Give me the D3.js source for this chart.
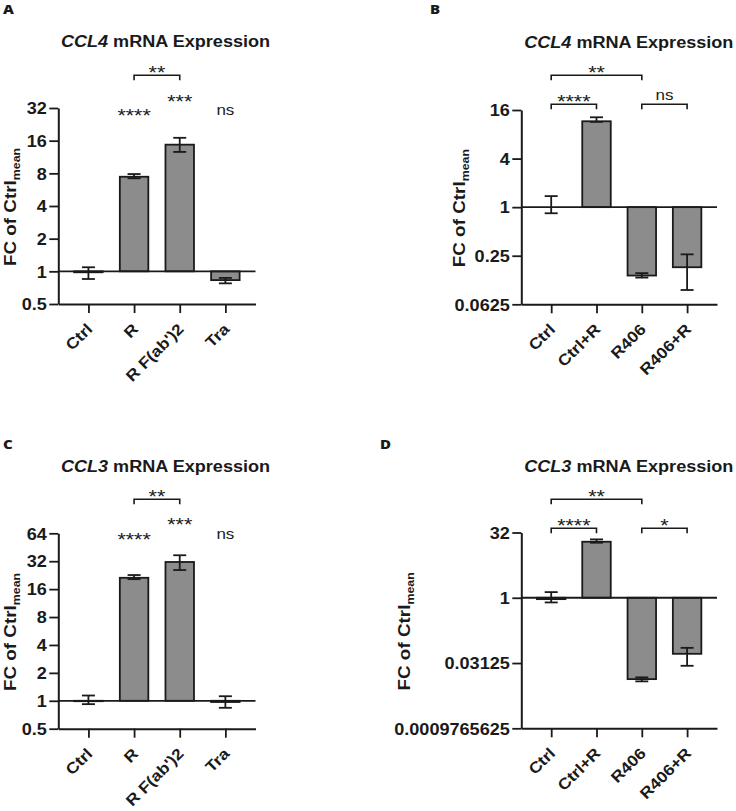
<!DOCTYPE html>
<html><head><meta charset="utf-8">
<script src="https://cdn.jsdelivr.net/npm/d3@7"></script>
<style>
body{margin:0;background:#fff}
svg{display:block}
text{font-family:"Liberation Sans",Arial,sans-serif;fill:#1a1a1a}
</style>
</head><body>
<svg id="c" width="736" height="811"></svg>
<script>
// ---------- data ----------
const catsAC = ["Ctrl", "R", "R F(ab')2", "Tra"];
const catsBD = ["Ctrl", "Ctrl+R", "R406", "R406+R"];

// Panel A: CCL4
const meanA = [0.98, 7.44, 14.7, 0.83];
const lowA  = [0.85, 7.2, 12.6, 0.775];
const highA = [1.09, 7.88, 17.0, 0.87];
const ticksA = [0.5, 1, 2, 4, 8, 16, 32];
const sigA = ["****", "***", "ns"];        // vs Ctrl for R, R F(ab')2, Tra
const bracketA = ["**"];                   // R vs R F(ab')2

// Panel B: CCL4
const meanB = [1.0, 11.6, 0.142, 0.18];
const lowB  = [0.84, 11.4, 0.134, 0.094];
const highB = [1.37, 13.0, 0.152, 0.26];
const ticksB = [0.0625, 0.25, 1, 4, 16];
const bracketB = ["**", "****", "ns"];     // Ctrl-R406, Ctrl-Ctrl+R, R406-R406+R

// Panel C: CCL3
const meanC = [0.99, 21.2, 31.4, 0.97];
const lowC  = [0.92, 20.5, 25.7, 0.84];
const highC = [1.14, 22.7, 37.1, 1.12];
const ticksC = [0.5, 1, 2, 4, 8, 16, 32, 64];
const sigC = ["****", "***", "ns"];
const bracketC = ["**"];

// Panel D: CCL3
const meanD = [0.93, 19.6, 0.0133, 0.051];
const lowD  = [0.78, 18.6, 0.0118, 0.027];
const highD = [1.35, 22.2, 0.0146, 0.070];
const ticksD = [0.0009765625, 0.03125, 1, 32];
const bracketD = ["**", "****", "*"];

// ---------- drawing ----------
const svg = d3.select("#c");
const INK = "#1a1a1a";
const BAR = "#8c8c8c";
const SX = 1.13; // glyph widening to match the reference typeface

function panel(o) {
  const g = svg.append("g");
  const y = d3.scaleLog().base(2).domain([o.ticks[0], o.ticks[o.ticks.length - 1]]).range([o.yBot, o.yTop]);
  const x = d3.scalePoint().domain(o.cats).range([o.axX, o.axR]).padding(0.66);
  const bw = 28.5;

  // panel letter
  g.append("text").attr("transform", `translate(${o.letter[1]},${o.letter[2]}) scale(1.25,1)`)
    .style("font-family", "'Open Sans',sans-serif").style("font-weight", 800).style("font-size", "12px")
    .text(o.letter[0]);

  // title
  const t = g.append("text").attr("transform", `translate(${o.titleX},${o.titleY}) scale(${SX},1)`)
    .attr("text-anchor", "middle").style("font-weight", "bold").style("font-size", "16px");
  t.append("tspan").style("font-style", "italic").text(o.gene);
  t.append("tspan").text(" mRNA Expression");

  // y label
  const yl = g.append("text")
    .attr("transform", `translate(${o.ylX},${(o.yTop + o.yBot) / 2 + 1}) rotate(-90) scale(1.18,1)`)
    .attr("text-anchor", "middle").style("font-weight", "bold").style("font-size", "16px");
  yl.append("tspan").text("FC of Ctrl");
  yl.append("tspan").attr("dy", 4).style("font-size", "10.5px").text("mean");

  // bars (from baseline 1)
  g.selectAll("rect.bar").data(o.cats).join("rect")
    .attr("x", d => x(d) - bw / 2).attr("width", bw)
    .attr("y", (d, i) => Math.min(y(o.mean[i]), y(1)))
    .attr("height", (d, i) => Math.abs(y(o.mean[i]) - y(1)))
    .attr("fill", BAR).attr("stroke", INK).attr("stroke-width", 1.8);

  // error bars
  const cap = 13;
  o.cats.forEach((c, i) => {
    const cx = x(c);
    g.append("line").attr("x1", cx).attr("x2", cx).attr("y1", y(o.low[i])).attr("y2", y(o.high[i]))
      .attr("stroke", INK).attr("stroke-width", 1.8);
    [o.low[i], o.high[i]].forEach(v => {
      g.append("line").attr("x1", cx - cap / 2).attr("x2", cx + cap / 2).attr("y1", y(v)).attr("y2", y(v))
        .attr("stroke", INK).attr("stroke-width", 1.8);
    });
  });

  // baseline at 1
  g.append("line").attr("x1", o.axX).attr("x2", o.axR).attr("y1", y(1)).attr("y2", y(1))
    .attr("stroke", INK).attr("stroke-width", 1.8);

  // y axis
  const ya = g.append("g").attr("transform", `translate(${o.axX},0)`)
    .call(d3.axisLeft(y).tickValues(o.ticks).tickFormat(d => String(d)).tickSize(9).tickSizeOuter(0).tickPadding(3));
  // x axis
  const xa = g.append("g").attr("transform", `translate(0,${o.yBot})`)
    .call(d3.axisBottom(x).tickSize(9).tickSizeOuter(0).tickFormat(""));
  [ya, xa].forEach(a => {
    a.select(".domain").attr("stroke", INK).attr("stroke-width", 2);
    a.selectAll(".tick line").attr("stroke", INK).attr("stroke-width", 1.8);
  });
  ya.selectAll(".tick text").style("font-weight", "bold").style("font-size", "16px")
    .style("font-family", "'Liberation Sans',Arial,sans-serif").attr("fill", INK)
    .attr("x", 0).attr("dy", "0.36em").attr("transform", `translate(-11.5,0) scale(${SX},1)`);

  // x labels rotated
  g.selectAll("text.xl").data(o.cats).join("text")
    .attr("transform", d => `translate(${x(d) + 5},${o.yBot + 26}) rotate(-45) scale(${SX},1)`)
    .attr("text-anchor", "end").style("font-weight", "bold").style("font-size", "15.5px")
    .text(d => d);

  // significance labels
  function sigText(txt, cx, cyc) {
    const star = txt.indexOf("*") >= 0;
    g.append("text").attr("transform", `translate(${cx},${star ? cyc + 10.5 : cyc + 4.5}) scale(${SX},1)`)
      .attr("text-anchor", "middle").style("font-size", star ? "19px" : "15px")
      .text(txt);
  }
  function bracket(i0, i1, by, txt, ty) {
    const x0 = x(o.cats[i0]), x1 = x(o.cats[i1]);
    g.append("path").attr("d", `M${x0},${by + 5}V${by}H${x1}V${by + 5}`)
      .attr("fill", "none").attr("stroke", INK).attr("stroke-width", 1.6);
    sigText(txt, (x0 + x1) / 2, ty);
  }
  (o.single || []).forEach(s => sigText(s.txt, x(o.cats[s.i]), s.cy));
  (o.brackets || []).forEach(b => bracket(b.i0, b.i1, b.y, b.txt, b.ty));
}

panel({
  letter: ["A", 3, 14], gene: "CCL4", titleX: 165.5, titleY: 47,
  axX: 58.3, axR: 255.5, yTop: 108, yBot: 304, ylX: 15.5,
  cats: catsAC, mean: meanA, low: lowA, high: highA, ticks: ticksA,
  single: [{i: 1, txt: sigA[0], cy: 111.7}, {i: 2, txt: sigA[1], cy: 97.7}, {i: 3, txt: sigA[2], cy: 110}],
  brackets: [{i0: 1, i1: 2, y: 75.3, txt: bracketA[0], ty: 68.3}]
});
panel({
  letter: ["B", 430, 14], gene: "CCL4", titleX: 628.8, titleY: 48,
  axX: 521.3, axR: 717, yTop: 110, yBot: 304.3, ylX: 464.5,
  cats: catsBD, mean: meanB, low: lowB, high: highB, ticks: ticksB,
  brackets: [{i0: 0, i1: 2, y: 75.3, txt: bracketB[0], ty: 68},
             {i0: 0, i1: 1, y: 104.3, txt: bracketB[1], ty: 97},
             {i0: 2, i1: 3, y: 104.3, txt: bracketB[2], ty: 95.7}]
});
panel({
  letter: ["C", 3, 449], gene: "CCL3", titleX: 165.5, titleY: 471.7,
  axX: 58.3, axR: 255.5, yTop: 533.3, yBot: 728.7, ylX: 15.5,
  cats: catsAC, mean: meanC, low: lowC, high: highC, ticks: ticksC,
  single: [{i: 1, txt: sigC[0], cy: 535.7}, {i: 2, txt: sigC[1], cy: 520.7}, {i: 3, txt: sigC[2], cy: 534.3}],
  brackets: [{i0: 1, i1: 2, y: 499.3, txt: bracketC[0], ty: 492.3}]
});
panel({
  letter: ["D", 380, 449], gene: "CCL3", titleX: 628.8, titleY: 471.7,
  axX: 521.3, axR: 717, yTop: 532.5, yBot: 728.3, ylX: 410,
  cats: catsBD, mean: meanD, low: lowD, high: highD, ticks: ticksD,
  brackets: [{i0: 0, i1: 2, y: 499.3, txt: bracketD[0], ty: 492.3},
             {i0: 0, i1: 1, y: 528.3, txt: bracketD[1], ty: 521.7},
             {i0: 2, i1: 3, y: 528.3, txt: bracketD[2], ty: 521.7}]
});
</script>
</body></html>
